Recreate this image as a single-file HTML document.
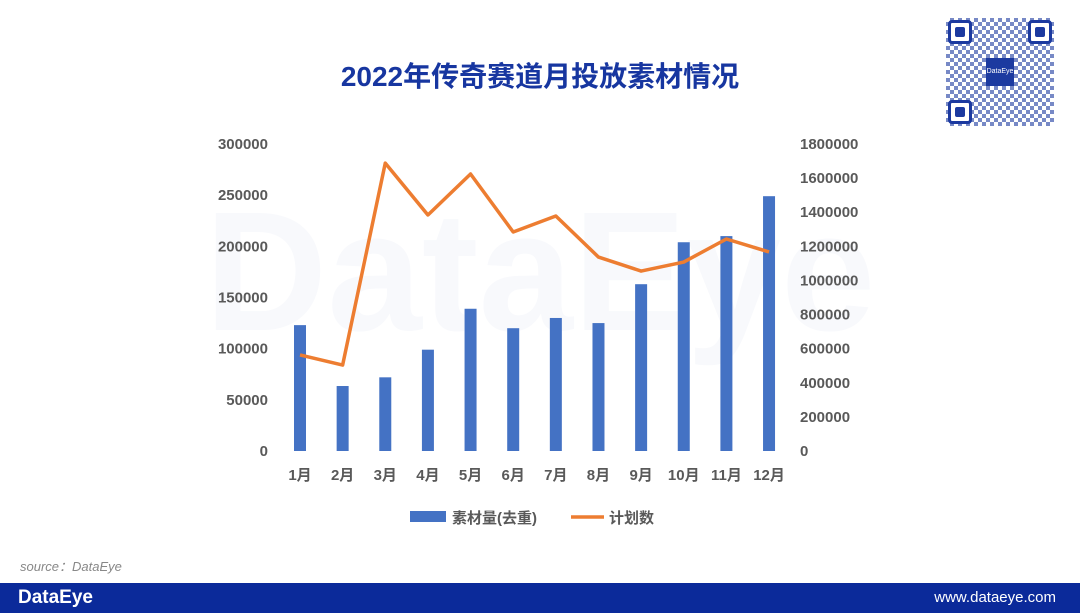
<!DOCTYPE html>
<html><head><meta charset="utf-8"><style>
body{margin:0;width:1080px;height:613px;overflow:hidden;background:#fff;font-family:"Liberation Sans","Noto Sans CJK SC",sans-serif;position:relative}
.fp{position:absolute;width:18px;height:18px;border:3px solid #1c3aa0;border-radius:4px;background:#fff}
.fp::after{content:"";position:absolute;left:4px;top:4px;width:10px;height:10px;background:#1c3aa0;border-radius:2px}
</style></head><body>
<div style="position:absolute;left:0;width:1080px;top:55px;text-align:center;font-size:28px;font-weight:bold;color:#1736a0">2022年传奇赛道月投放素材情况</div>
<div style="position:absolute;left:946px;top:18px;width:108px;height:108px;background:repeating-conic-gradient(#1c3aa0 0 25%,#fff 0 50%) 0 0/8px 8px;opacity:.6"></div>
<div class="fp" style="left:948px;top:20px"></div>
<div class="fp" style="left:1028px;top:20px"></div>
<div class="fp" style="left:948px;top:100px"></div>
<div style="position:absolute;left:986px;top:58px;width:28px;height:28px;background:#1c3aa0;color:#fff;font-size:7px;line-height:28px;text-align:center">DataEye</div>
<svg id="c" width="1080" height="613" style="position:absolute;left:0;top:0">
<text x="540" y="330" text-anchor="middle" font-size="170" font-weight="bold" fill="#f8f9fc">DataEye</text>
</svg>
<div style="position:absolute;left:20px;top:556px;font-size:13px;font-style:italic;color:#888">source：DataEye</div>
<div style="position:absolute;left:0;top:583px;width:1080px;height:30px;background:#0b2a9a">
<span style="position:absolute;left:18px;top:4px;color:#fff;font-weight:bold;font-size:19px">DataEye</span>
<span style="position:absolute;right:24px;top:6px;color:#fff;font-size:15px">www.dataeye.com</span>
</div>
<script>
const months=["1月","2月","3月","4月","5月","6月","7月","8月","9月","10月","11月","12月"];
const materials=[123000,63500,72000,99000,139000,120000,130000,125000,163000,204000,210000,249000];
const plans=[563000,504000,1688000,1384000,1624000,1284000,1378000,1137000,1055000,1108000,1243000,1167000];
const leftTicks=[0,50000,100000,150000,200000,250000,300000];
const rightTicks=[0,200000,400000,600000,800000,1000000,1200000,1400000,1600000,1800000];
const svg=document.getElementById('c');const NS="http://www.w3.org/2000/svg";
const y0=451,y1=144;
const yL=v=>y0-(v/300000)*(y0-y1);
const yR=v=>y0-(v/1800000)*(y0-y1);
const xC=i=>300+i*42.64;
function mk(t,a,txt){const e=document.createElementNS(NS,t);for(const k in a)e.setAttribute(k,a[k]);if(txt!==undefined)e.textContent=txt;svg.appendChild(e);return e;}
leftTicks.forEach(v=>{const e=mk('text',{x:268,y:yL(v)+5,'text-anchor':'end','font-size':15,'font-weight':'bold',fill:'#595959'},v);

});
rightTicks.forEach(v=>{const e=mk('text',{x:800,y:yR(v)+5,'font-size':15,'font-weight':'bold',fill:'#595959'},v);

});
months.forEach((m,i)=>{const e=mk('text',{x:xC(i),y:480,'text-anchor':'middle','font-size':15,'font-weight':'bold',fill:'#595959'},m);

});
materials.forEach((v,i)=>{const b=mk('rect',{x:xC(i)-6,y:yL(v),width:12,height:y0-yL(v),fill:'#4472c4'});

});
const pl=mk('polyline',{points:plans.map((v,i)=>xC(i)+','+yR(v)).join(' '),fill:'none',stroke:'#ed7d31','stroke-width':3.5,'stroke-linejoin':'round'});


const l1=mk('rect',{x:410,y:511,width:36,height:11,fill:'#4472c4'});


const l2=mk('text',{x:452,y:523,'font-size':15,'font-weight':'bold',fill:'#595959'},'素材量(去重)');


const l3=mk('line',{x1:571,y1:517,x2:604,y2:517,stroke:'#ed7d31','stroke-width':3.5});


const l4=mk('text',{x:609,y:523,'font-size':15,'font-weight':'bold',fill:'#595959'},'计划数');


</script>
</body></html>
